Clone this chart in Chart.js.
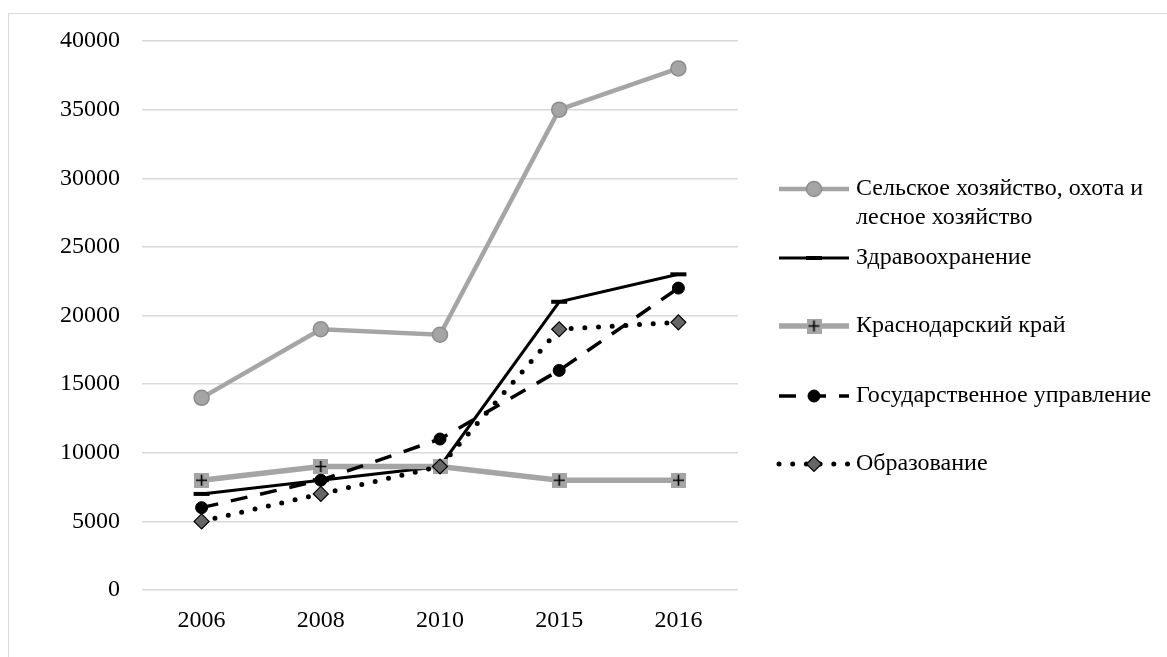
<!DOCTYPE html>
<html>
<head>
<meta charset="utf-8">
<script src="https://cdn.jsdelivr.net/npm/chart.js@4/dist/chart.umd.min.js"></script>
<style>
  body { margin: 0; background: #fff; overflow: hidden; }
</style>
</head>
<body>
<canvas id="grafico" width="1167" height="657"></canvas>
<script>
// Годы
var anos = ["2006", "2008", "2010", "2015", "2016"];

// Значения рядов
var selskoe = [14000, 19000, 18600, 35000, 38000];
var zdrav = [7000, 8000, 9000, 21000, 23000];
var krasnodar = [8000, 9000, 9000, 8000, 8000];
var gosupr = [6000, 8000, 11000, 16000, 22000];
var obrazovanie = [5000, 7000, 9000, 19000, 19500];

var nomes = [
   ["Сельское хозяйство, охота и", "лесное хозяйство"],
   ["Здравоохранение"],
   ["Краснодарский край"],
   ["Государственное управление"],
   ["Образование"],
];

var fonte = "'Liberation Serif', 'Times New Roman', serif";

// маркер: серый квадрат с крестом
function marcadorCruz() {
   var c = document.createElement("canvas");
   c.width = 15;
   c.height = 15;
   var g = c.getContext("2d");
   g.fillStyle = "#a5a5a5";
   g.fillRect(0, 0, 15, 15);
   g.strokeStyle = "#000";
   g.lineWidth = 1.6;
   g.beginPath();
   g.moveTo(7.5, 2);
   g.lineTo(7.5, 13);
   g.moveTo(2, 7.5);
   g.lineTo(13, 7.5);
   g.stroke();
   return c;
}
var cruz = marcadorCruz();

function desenhaMarcador(ctx, ds, x, y) {
   var st = ds.pointStyle;
   var r = ds.pointRadius;
   ctx.save();
   ctx.setLineDash([]);
   if (st instanceof HTMLCanvasElement) {
      ctx.drawImage(st, x - st.width / 2, y - st.height / 2);
   } else if (st === "line") {
      ctx.strokeStyle = ds.pointBorderColor;
      ctx.lineWidth = ds.pointBorderWidth;
      ctx.beginPath();
      ctx.moveTo(x - r, y);
      ctx.lineTo(x + r, y);
      ctx.stroke();
   } else if (st === "rectRot") {
      ctx.fillStyle = ds.pointBackgroundColor;
      ctx.strokeStyle = ds.pointBorderColor;
      ctx.lineWidth = ds.pointBorderWidth;
      ctx.beginPath();
      ctx.moveTo(x - r, y);
      ctx.lineTo(x, y - r);
      ctx.lineTo(x + r, y);
      ctx.lineTo(x, y + r);
      ctx.closePath();
      ctx.fill();
      ctx.stroke();
   } else {
      ctx.fillStyle = ds.pointBackgroundColor;
      ctx.strokeStyle = ds.pointBorderColor;
      ctx.lineWidth = ds.pointBorderWidth;
      ctx.beginPath();
      ctx.arc(x, y, r, 0, Math.PI * 2);
      ctx.fill();
      ctx.stroke();
   }
   ctx.restore();
}

// рамка и легенда
var extras = {
   id: "extras",
   beforeDraw: function (chart) {
      var ctx = chart.ctx;
      ctx.save();
      ctx.fillStyle = "#fff";
      ctx.fillRect(0, 0, chart.width, chart.height);
      ctx.strokeStyle = "#d9d9d9";
      ctx.lineWidth = 1;
      ctx.strokeRect(8.5, 13.5, 1400, 1000);
      ctx.restore();
   },
   afterDraw: function (chart) {
      var ctx = chart.ctx;
      var ys = [189, 258, 326, 396, 464];
      chart.data.datasets.forEach(function (ds, i) {
         var y = ys[i];
         ctx.save();
         ctx.strokeStyle = ds.borderColor;
         ctx.lineWidth = ds.borderWidth;
         ctx.lineCap = ds.borderCapStyle || "butt";
         ctx.setLineDash(ds.borderDash || []);
         ctx.beginPath();
         ctx.moveTo(779, y);
         ctx.lineTo(849, y);
         ctx.stroke();
         ctx.restore();
         desenhaMarcador(ctx, ds, 814, y);
         ctx.save();
         ctx.fillStyle = "#000";
         ctx.font = "24px " + fonte;
         ctx.textBaseline = "middle";
         ctx.textAlign = "left";
         nomes[i].forEach(function (t, k) {
            ctx.fillText(t, 856, y + k * 29);
         });
         ctx.restore();
      });
   },
};

var grafico = new Chart(document.getElementById("grafico").getContext("2d"), {
   type: "line",
   data: {
      labels: anos,
      datasets: [
         {
            label: nomes[0].join(" "),
            data: selskoe,
            borderColor: "#a5a5a5",
            borderWidth: 4.5,
            pointStyle: "circle",
            pointRadius: 7.5,
            pointBackgroundColor: "#a5a5a5",
            pointBorderColor: "#8c8c8c",
            pointBorderWidth: 1.5,
            order: 5,
         },
         {
            label: nomes[1][0],
            data: zdrav,
            borderColor: "#000",
            borderWidth: 3,
            pointStyle: "line",
            pointRadius: 8,
            pointBorderColor: "#000",
            pointBorderWidth: 4,
            order: 4,
         },
         {
            label: nomes[2][0],
            data: krasnodar,
            borderColor: "#a5a5a5",
            borderWidth: 5.5,
            pointStyle: cruz,
            pointRadius: 7.5,
            order: 3,
         },
         {
            label: nomes[3][0],
            data: gosupr,
            borderColor: "#000",
            borderWidth: 3.5,
            borderDash: [17, 13],
            pointStyle: "circle",
            pointRadius: 6,
            pointBackgroundColor: "#000",
            pointBorderColor: "#000",
            pointBorderWidth: 1,
            order: 2,
         },
         {
            label: nomes[4][0],
            data: obrazovanie,
            borderColor: "#000",
            borderWidth: 5,
            borderDash: [0, 13.7],
            borderCapStyle: "round",
            pointStyle: "rectRot",
            pointRadius: 7.5,
            pointBackgroundColor: "#666666",
            pointBorderColor: "#000",
            pointBorderWidth: 1.2,
            order: 1,
         },
      ],
   },
   options: {
      responsive: false,
      animation: false,
      devicePixelRatio: 1,
      layout: {
         padding: { left: 0, right: 429, top: 41, bottom: 0 },
      },
      scales: {
         x: {
            offset: true,
            grid: { display: false, drawTicks: false, offset: true },
            border: { display: false },
            ticks: { color: "#000", font: { family: fonte, size: 24 }, padding: 16 },
            afterFit: function (s) { s.height = 67; },
         },
         y: {
            min: 0,
            max: 40000,
            grid: { color: "#d9d9d9", lineWidth: 1.5, drawTicks: false },
            border: { display: false },
            ticks: {
               stepSize: 5000,
               color: "#000",
               font: { family: fonte, size: 24 },
               padding: 22,
               callback: function (v) { return String(v); },
            },
            afterFit: function (s) { s.width = 142; },
         },
      },
      plugins: {
         legend: { display: false },
         tooltip: { enabled: false },
      },
   },
   plugins: [extras],
});
</script>
</body>
</html>
